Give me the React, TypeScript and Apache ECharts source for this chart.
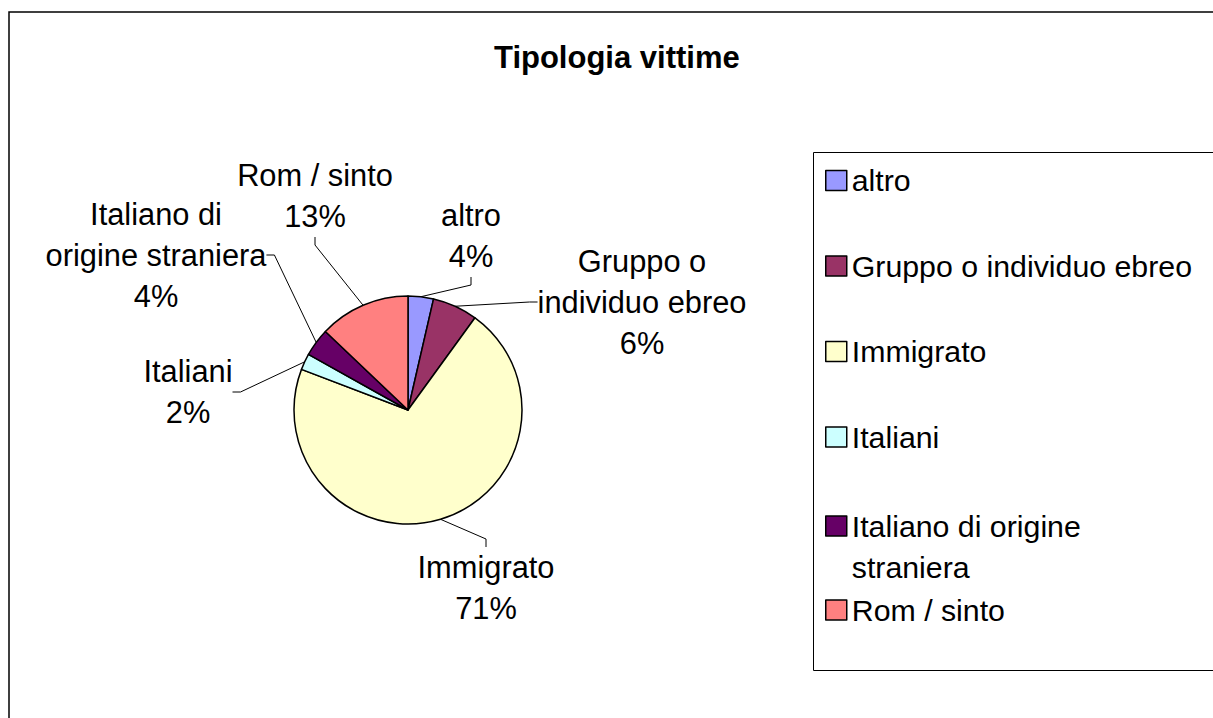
import React, { useEffect, useRef } from "react";
import * as echarts from "echarts";

const TITLE = "Tipologia vittime";
const categories = [
  "altro",
  "Gruppo o individuo ebreo",
  "Immigrato",
  "Italiani",
  "Italiano di origine straniera",
  "Rom / sinto",
];
const values = [3.6, 6.4, 70.8, 2.3, 4.0, 12.9];
const colors = ["#9999FF", "#993366", "#FFFFCC", "#CCFFFF", "#660066", "#FF8080"];
const sliceLabels = [
  "altro",
  "Gruppo o\nindividuo ebreo",
  "Immigrato",
  "Italiani",
  "Italiano di\norigine straniera",
  "Rom / sinto",
];
const legendLabels = [
  "altro",
  "Gruppo o individuo ebreo",
  "Immigrato",
  "Italiani",
  "\nItaliano di origine\nstraniera",
  "Rom / sinto",
];

// label block centres (layout, not data)
const labelCentres: [number, number][] = [
  [471, 236],
  [642, 302],
  [486, 588],
  [188, 392],
  [156, 255],
  [315, 196],
];

const FONT = "'Liberation Sans', Arial, Helvetica, sans-serif";
const LABEL_SIZE = 30.8;
const LEGEND_SIZE = 30.3;

export default function App() {
  const ref = useRef<HTMLDivElement>(null);
  useEffect(() => {
    if (!ref.current) return;
    const chart = echarts.init(ref.current, undefined, { renderer: "svg" });
    const legendText = (name: string) => legendLabels[categories.indexOf(name)];
    const legendBase = {
      orient: "vertical" as const,
      left: 825,
      padding: 0,
      itemWidth: 21,
      itemHeight: 20,
      icon: "rect",
      selectedMode: false,
      itemStyle: { borderColor: "#000", borderWidth: 1.5 },
      formatter: legendText,
    };
    chart.setOption({
      animation: false,
      backgroundColor: "#fff",
      color: colors,
      title: {
        text: TITLE,
        left: 494,
        top: 39,
        padding: 0,
        textStyle: { fontFamily: FONT, fontSize: 31, fontWeight: "bold", color: "#000", lineHeight: 36 },
      },
      graphic: [
        { type: "rect", shape: { x: 9, y: 12, width: 1400, height: 900 }, style: { fill: "none", stroke: "#000", lineWidth: 1.5 }, silent: true },
        { type: "rect", shape: { x: 813.5, y: 152.5, width: 600, height: 518 }, style: { fill: "none", stroke: "#000", lineWidth: 1 }, silent: true },
      ],
      legend: [
        {
          ...legendBase,
          data: categories.slice(0, 4),
          top: 180.5 - 15,
          itemGap: 55.5,
          textStyle: { fontFamily: FONT, fontSize: LEGEND_SIZE, color: "#000", lineHeight: 30 },
        },
        {
          ...legendBase,
          data: [categories[4]],
          top: 526 - 61.5,
          textStyle: { fontFamily: FONT, fontSize: LEGEND_SIZE, color: "#000", lineHeight: 41 },
        },
        {
          ...legendBase,
          data: [categories[5]],
          top: 610 - 15,
          textStyle: { fontFamily: FONT, fontSize: LEGEND_SIZE, color: "#000", lineHeight: 30 },
        },
      ],
      series: [
        {
          type: "pie",
          center: [408, 410],
          radius: 114,
          startAngle: 90,
          clockwise: true,
          avoidLabelOverlap: false,
          itemStyle: { borderColor: "#000", borderWidth: 1.5 },
          emphasis: { disabled: true },
          label: {
            show: true,
            position: "outside",
            fontFamily: FONT,
            fontSize: LABEL_SIZE,
            lineHeight: 41,
            color: "#000",
            align: "center",
            formatter: (p: any) => `${sliceLabels[p.dataIndex]}\n${Math.round(p.percent)}%`,
          },
          labelLine: { show: true, length: 10, length2: 8, lineStyle: { color: "#000", width: 1 } },
          labelLayout: (p: any) => {
            const c = labelCentres[p.dataIndex];
            return { x: c[0], y: c[1], align: "center", verticalAlign: "middle" };
          },
          data: categories.map((n, i) => ({ name: n, value: values[i] })),
        },
      ],
    });
    return () => chart.dispose();
  }, []);
  return <div ref={ref} style={{ position: "absolute", left: 0, top: 0, width: 1213, height: 718 }} />;
}
